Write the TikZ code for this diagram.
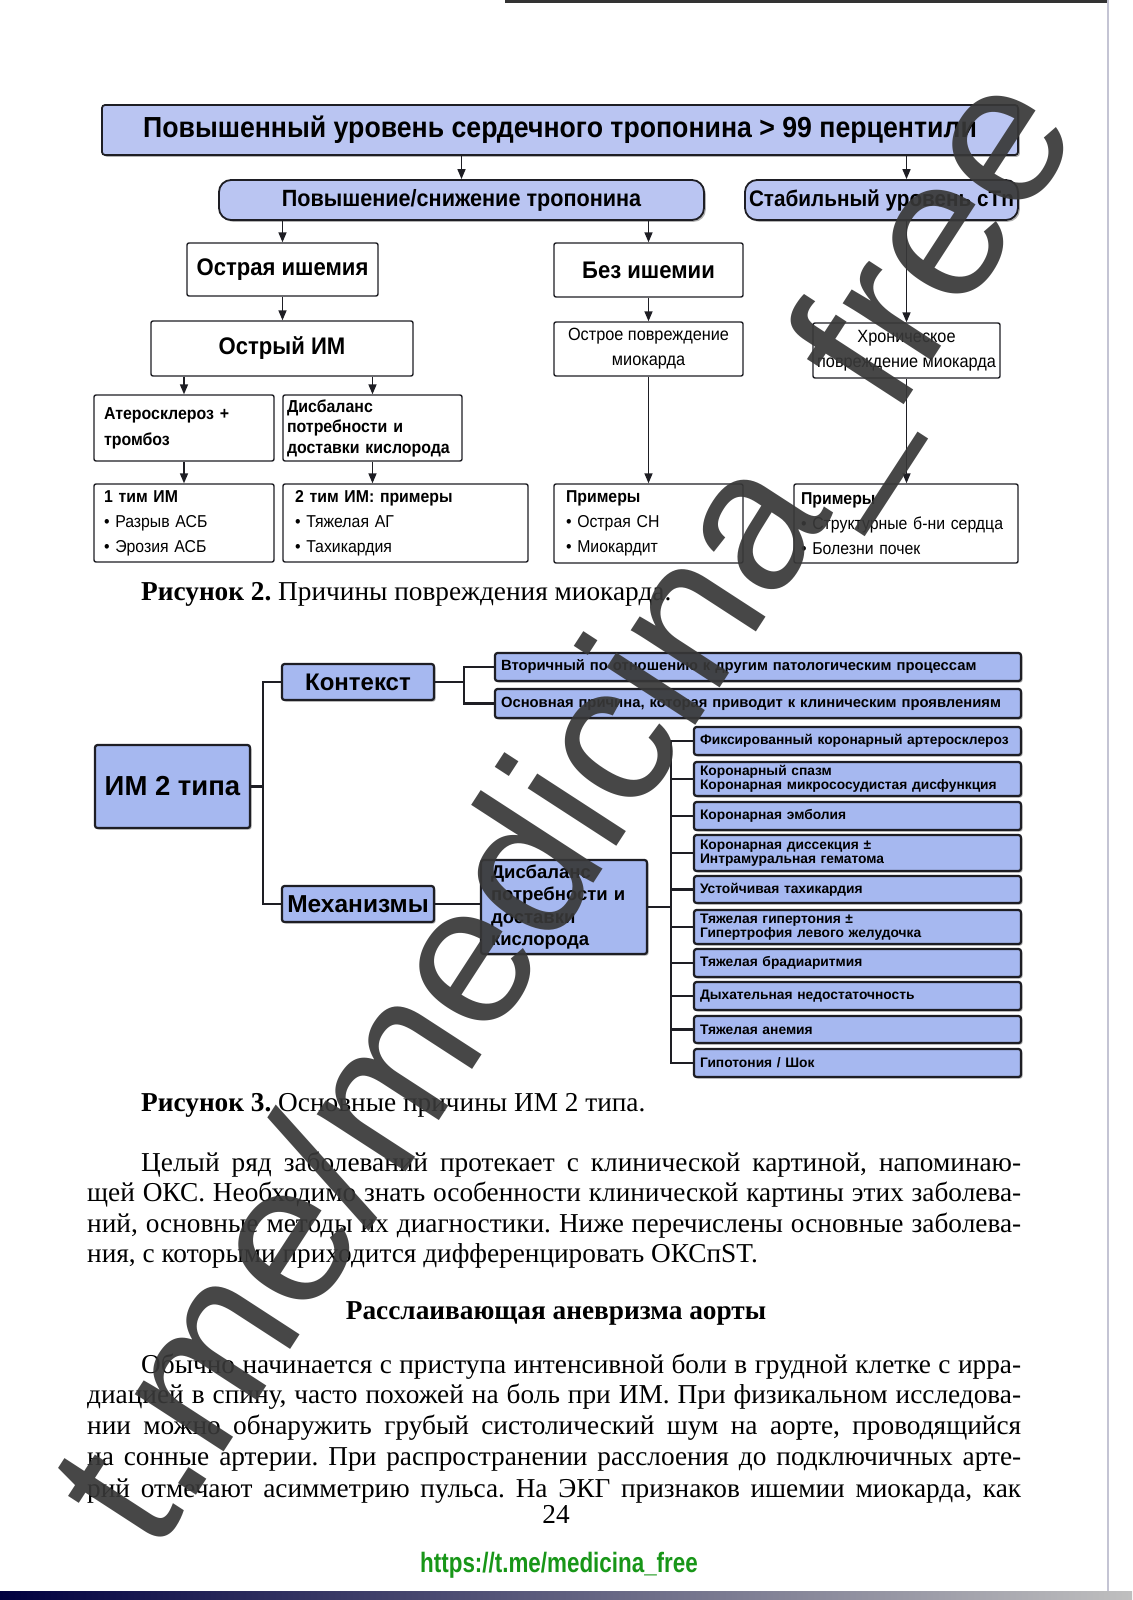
\documentclass[tikz,border=0pt]{standalone}
\usepackage{fontspec}
\setmainfont{Liberation Serif}
\setsansfont{Liberation Sans}
\newfontfamily\figsans[FakeStretch=0.92]{Liberation Sans}
\newfontfamily\linkfont[FakeStretch=0.8]{Liberation Sans}
\usetikzlibrary{arrows.meta,positioning,shadows,calc}
\definecolor{tropblue}{RGB}{186,197,242}
\definecolor{typeblue}{RGB}{166,184,240}
\definecolor{edgegray}{RGB}{30,30,36}
\definecolor{linkgreen}{RGB}{24,150,24}
\frenchspacing

\begin{document}
\begin{tikzpicture}[x=1pt, y=-1pt,
    tropbox/.style={draw=edgegray, line width=1.8pt, fill=tropblue, rounded corners=#1, inner sep=2pt,
        drop shadow={shadow xshift=1.8pt, shadow yshift=-1.8pt, fill=black!60}},
    plainbox/.style={draw=edgegray, line width=1.4pt, fill=white, rounded corners=2pt, inner sep=2pt},
    leftbox/.style={plainbox, align=left},
    typebox/.style={draw=edgegray, line width=2.2pt, fill=typeblue, rounded corners=2.5pt, inner sep=2pt,
        drop shadow={shadow xshift=1.6pt, shadow yshift=-1.6pt, fill=black!60}},
    itembox/.style={typebox, minimum width=327pt, text width=315pt, inner xsep=6pt, align=left,
        font=\sffamily\bfseries\fontsize{13.8}{14.5}\selectfont},
    arr/.style={-{Triangle[length=10pt, width=8pt]}, line width=1.6pt, draw=edgegray},
    conn/.style={line width=2.2pt, draw=edgegray},
    bodyline/.style={inner sep=0pt, anchor=base west, font=\fontsize{27.3}{30}\selectfont},
    wmark/.style={text=black!78, opacity=0.92, font=\sffamily\fontsize{200}{200}\selectfont, inner sep=0pt}
]
\useasboundingbox (0,0) rectangle (1132,1600);
\fill[white] (0,0) rectangle (1132,1600);

% page edges of the scan
\fill[black!80] (505,0) rectangle (1108,3);
\draw[blue!15!gray!40, line width=1.5pt] (1108,0) -- (1108,1600);
\shade[left color=black!75!blue, right color=gray!50] (0,1591) rectangle (1132,1600);

% --- figure 2: causes of myocardial injury ---
\node[tropbox=3pt, minimum width=916pt, minimum height=50pt, font=\figsans\bfseries\fontsize{29}{32}\selectfont] (top) at (560,130) {Повышенный уровень сердечного тропонина > 99 перцентили};
\node[tropbox=12pt, minimum width=485pt, minimum height=40pt, font=\figsans\bfseries\fontsize{23.5}{26}\selectfont] (pvs) at (461.5,200) {Повышение/снижение тропонина};
\node[tropbox=12pt, minimum width=273pt, minimum height=40pt, font=\figsans\bfseries\fontsize{22.5}{26}\selectfont] (stab) at (881.5,200) {Стабильный уровень cTn};

\node[plainbox, minimum width=191pt, minimum height=53pt, font=\figsans\bfseries\fontsize{24}{26}\selectfont] (acute) at (282.5,269.5) {Острая ишемия};
\node[plainbox, minimum width=189pt, minimum height=54pt, font=\figsans\bfseries\fontsize{24}{26}\selectfont] (noisch) at (648.5,270) {Без ишемии};

\node[plainbox, minimum width=262pt, minimum height=55pt, font=\figsans\bfseries\fontsize{24}{26}\selectfont] (ami) at (282,348.5) {Острый ИМ};
\node[plainbox, minimum width=189pt, minimum height=54pt, align=center, font=\figsans\fontsize{17.7}{25}\selectfont] (acinj) at (648.5,349) {Острое повреждение\\миокарда};
\node[plainbox, minimum width=187pt, minimum height=55pt, align=center, font=\figsans\fontsize{17.7}{25}\selectfont] (chr) at (906.5,350.5) {Хроническое\\повреждение миокарда};

\node[leftbox, minimum width=180pt, minimum height=66pt, text width=160pt, inner xsep=10pt, font=\figsans\bfseries\fontsize{17.3}{26}\selectfont] (athero) at (184,428) {Атеросклероз +\\тромбоз};
\node[leftbox, minimum width=179pt, minimum height=66pt, text width=171pt, inner xsep=4pt, font=\figsans\bfseries\fontsize{17.3}{20.5}\selectfont] (imbal) at (372.5,428) {Дисбаланс\\потребности и\\доставки кислорода};

\node[leftbox, minimum width=180pt, minimum height=78pt, text width=160pt, inner xsep=10pt, font=\figsans\fontsize{17.2}{25}\selectfont] (type1) at (184,523) {\textbf{1 тим ИМ}\\• Разрыв АСБ\\• Эрозия АСБ};
\node[leftbox, minimum width=245pt, minimum height=78pt, text width=221pt, inner xsep=12pt, font=\figsans\fontsize{17.2}{25}\selectfont] (type2) at (405.5,523) {\textbf{2 тим ИМ: примеры}\\• Тяжелая АГ\\• Тахикардия};
\node[leftbox, minimum width=189pt, minimum height=79pt, text width=165pt, inner xsep=12pt, font=\figsans\fontsize{17.2}{25}\selectfont] (ex1) at (648.5,523.5) {\textbf{Примеры}\\• Острая СН\\• Миокардит};
\node[leftbox, minimum width=224pt, minimum height=79pt, text width=210pt, inner xsep=7pt, font=\figsans\fontsize{17.2}{25}\selectfont] (ex2) at (906,523.5) {\textbf{Примеры}\\• Структурные б-ни сердца\\• Болезни почек};

\draw[arr] (top.south -| pvs) -- (pvs.north);
\draw[arr] (top.south -| chr) -- (stab.north -| chr);
\draw[arr] (stab.south -| chr) -- (chr.north);
\draw[arr] (pvs.south -| acute) -- (acute.north);
\draw[arr] (pvs.south -| noisch) -- (noisch.north);
\draw[arr] (acute.south) -- (acute.south |- ami.north);
\draw[arr] (noisch.south) -- (noisch.south |- acinj.north);
\draw[arr] (ami.south -| athero) -- (athero.north);
\draw[arr] (ami.south -| imbal) -- (imbal.north);
\draw[arr] (athero.south) -- (athero.south |- type1.north);
\draw[arr] (imbal.south) -- (imbal.south |- type2.north);
\draw[arr] (acinj.south) -- (acinj.south |- ex1.north);
\draw[arr] (chr.south) -- (chr.south |- ex2.north);

\node[bodyline] (cap2) at (141,600) {\textbf{Рисунок 2.} Причины повреждения миокарда.};

% --- figure 3: causes of type 2 MI ---
\node[typebox, minimum width=155pt, minimum height=83pt, font=\sffamily\bfseries\fontsize{27.5}{30}\selectfont] (im2) at (172.5,786.5) {ИМ 2 типа};
\node[typebox, minimum width=152pt, minimum height=36pt, font=\sffamily\bfseries\fontsize{24}{26}\selectfont] (ctx) at (358,682) {Контекст};
\node[typebox, minimum width=152pt, minimum height=36pt, font=\sffamily\bfseries\fontsize{24.5}{26}\selectfont] (mech) at (358,904) {Механизмы};
\node[typebox, minimum width=526pt, minimum height=28pt, text width=514pt, inner xsep=6pt, align=left, font=\sffamily\bfseries\fontsize{14.8}{16}\selectfont] (sec) at (758,667) {Вторичный по отношению к другим патологическим процессам};
\node[typebox, minimum width=526pt, minimum height=29pt, text width=514pt, inner xsep=6pt, align=left, font=\sffamily\bfseries\fontsize{14.8}{16}\selectfont] (main) at (758,703.5) {Основная причина, которая приводит к клиническим проявлениям};
\node[typebox, minimum width=166pt, minimum height=94pt, text width=146pt, inner xsep=10pt, align=left, font=\sffamily\bfseries\fontsize{18.5}{22.5}\selectfont] (imb3) at (564,907) {Дисбаланс\\потребности и\\доставки\\кислорода};

\foreach \y/\h/\txt [count=\i] in {741/28/{Фиксированный коронарный артеросклероз},
    779/34/{Коронарный спазм\\Коронарная микрососудистая дисфункция},
    816/28/{Коронарная эмболия},
    853/36/{Коронарная диссекция ±\\Интрамуральная гематома},
    889.5/27/{Устойчивая тахикардия},
    927/34/{Тяжелая гипертония ±\\Гипертрофия левого желудочка},
    963/28/{Тяжелая брадиаритмия},
    996/28/{Дыхательная недостаточность},
    1029.5/27/{Тяжелая анемия},
    1063/28/{Гипотония / Шок}}
  \node[itembox, minimum height=\h pt] (it\i) at (857.5,\y) {\txt};

\coordinate (trunkL) at (263,786.5);
\coordinate (trunkC) at (464,682);
\coordinate (trunkM) at (671,907);
\draw[conn] (im2.east) -- (trunkL);
\draw[conn] (ctx.west) -| (trunkL) |- (mech.west);
\draw[conn] (ctx.east) -- (trunkC);
\draw[conn] (sec.west) -| (trunkC) |- (main.west);
\draw[conn] (mech.east) -- (imb3.west |- mech.east);
\draw[conn] (imb3.east) -- (trunkM);
\draw[conn] (it1.west) -| (trunkM) |- (it10.west);
\foreach \i in {2,...,9}
  \draw[conn] (it\i.west) -- (it\i.west -| trunkM);

\node[bodyline] (cap3) at (141,1111) {\textbf{Рисунок 3.} Основные причины ИМ 2 типа.};

% --- running text ---
\node[bodyline] (p1a) at (141,1171) {\makebox[880pt][s]{Целый ряд заболеваний протекает с клинической картиной, напоминаю-}};
\node[bodyline] (p1b) at (87,1201) {\makebox[934pt][s]{щей ОКС. Необходимо знать особенности клинической картины этих заболева-}};
\node[bodyline] (p1c) at (87,1232) {\makebox[934pt][s]{ний, основные методы их диагностики. Ниже перечислены основные заболева-}};
\node[bodyline] (p1d) at (87,1262) {ния, с которыми приходится дифференцировать ОКСпST.};
\node[bodyline, anchor=base, font=\bfseries\fontsize{27.3}{30}\selectfont] (head) at (556,1319) {Расслаивающая аневризма аорты};
\node[bodyline] (p2a) at (141,1373) {\makebox[880pt][s]{Обычно начинается с приступа интенсивной боли в грудной клетке с ирра-}};
\node[bodyline] (p2b) at (87,1403) {\makebox[934pt][s]{диацией в спину, часто похожей на боль при ИМ. При физикальном исследова-}};
\node[bodyline] (p2c) at (87,1434) {\makebox[934pt][s]{нии можно обнаружить грубый систолический шум на аорте, проводящийся}};
\node[bodyline] (p2d) at (87,1465) {\makebox[934pt][s]{на сонные артерии. При распространении расслоения до подключичных арте-}};
\node[bodyline] (p2e) at (87,1497) {\makebox[934pt][s]{рий отмечают асимметрию пульса. На ЭКГ признаков ишемии миокарда, как}};
\node[bodyline, anchor=base] (pnum) at (556,1523) {24};
\node[anchor=base, inner sep=0pt, text=linkgreen, font=\linkfont\bfseries\fontsize{28}{30}\selectfont] (link) at (559,1572) {https://t.me/medicina\_free};

% watermark over the page
\node[wmark, rotate=57] (wm) at (575,815) {t.me/medicina\_free};
\end{tikzpicture}
\end{document}
